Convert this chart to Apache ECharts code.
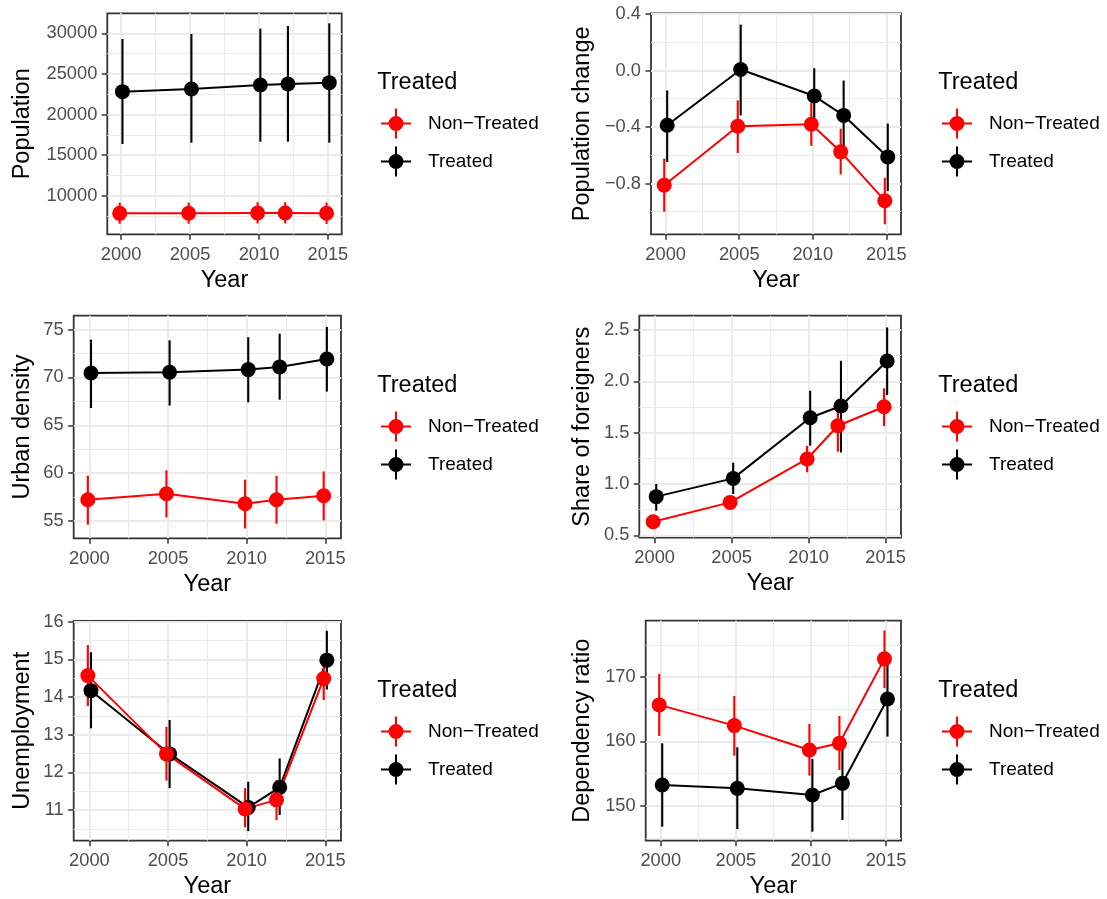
<!DOCTYPE html>
<html>
<head>
<meta charset="utf-8">
<script src="https://cdn.jsdelivr.net/npm/echarts@6/dist/echarts.min.js"></script>
<style>
html,body{margin:0;padding:0;background:#fff;}
#chart{width:1107px;height:899px;}
</style>
</head>
<body>
<div id="chart"></div>
<script>
// ---------- DATA ----------
const years = [2000, 2005, 2010, 2012, 2015];
const groupNames = ['Non-Treated', 'Treated'];

// Population
const popNonTreated      = [7830, 7840, 7880, 7870, 7850];
const popNonTreatedLow   = [6550, 6560, 6590, 6580, 6520];
const popNonTreatedHigh  = [9140, 9150, 9200, 9190, 9160];
const popTreated         = [22810, 23140, 23630, 23760, 23920];
const popTreatedLow      = [16370, 16530, 16650, 16650, 16530];
const popTreatedHigh     = [29300, 29910, 30570, 30900, 31230];

// Population change
const chgNonTreated      = [-0.812, -0.395, -0.381, -0.576, -0.922];
const chgNonTreatedLow   = [-1.000, -0.584, -0.534, -0.736, -1.089];
const chgNonTreatedHigh  = [-0.624, -0.212, -0.228, -0.412, -0.760];
const chgTreated         = [-0.388, 0.007, -0.181, -0.318, -0.612];
const chgTreatedLow      = [-0.647, -0.318, -0.378, -0.565, -0.854];
const chgTreatedHigh     = [-0.141, 0.325, 0.016, -0.071, -0.376];

// Urban density
const densNonTreated     = [57.23, 57.86, 56.81, 57.23, 57.65];
const densNonTreatedLow  = [54.62, 55.38, 54.23, 54.72, 55.07];
const densNonTreatedHigh = [59.74, 60.30, 59.32, 59.74, 60.19];
const densTreated        = [70.47, 70.54, 70.82, 71.10, 71.93];
const densTreatedLow     = [66.81, 67.06, 67.40, 67.68, 68.52];
const densTreatedHigh    = [73.95, 73.88, 74.20, 74.58, 75.28];

// Share of foreigners
const forNonTreated      = [0.633, 0.821, 1.244, 1.568, 1.753];
const forNonTreatedLow   = [0.580, 0.770, 1.114, 1.315, 1.565];
const forNonTreatedHigh  = [0.690, 0.875, 1.373, 1.786, 1.932];
const forTreated         = [0.877, 1.055, 1.646, 1.760, 2.198];
const forTreatedLow      = [0.740, 0.903, 1.373, 1.308, 1.867];
const forTreatedHigh     = [1.000, 1.208, 1.909, 2.200, 2.526];

// Unemployment
const unNonTreated       = [14.57, 12.49, 11.03, 11.27, 14.49];
const unNonTreatedLow    = [13.76, 11.78, 10.54, 10.73, 13.92];
const unNonTreatedHigh   = [15.38, 13.21, 11.58, 11.80, 15.06];
const unTreated          = [14.17, 12.49, 11.07, 11.60, 14.98];
const unTreatedLow       = [13.17, 11.58, 10.44, 10.87, 14.20];
const unTreatedHigh      = [15.19, 13.39, 11.75, 12.37, 15.76];

// Dependency ratio
const depNonTreated      = [165.69, 162.47, 158.68, 159.71, 172.86];
const depNonTreatedLow   = [160.86, 157.79, 154.68, 155.56, 168.29];
const depNonTreatedHigh  = [170.52, 167.09, 162.73, 163.97, 177.27];
const depTreated         = [153.22, 152.70, 151.66, 153.48, 166.62];
const depTreatedLow      = [146.73, 146.36, 145.95, 147.77, 160.75];
const depTreatedHigh     = [159.71, 159.09, 157.27, 158.94, 172.49];

// Tick labels
const xTicks = [2000, 2005, 2010, 2015];
const xMinor = [2002.5, 2007.5, 2012.5];
const popTicks  = [10000, 15000, 20000, 25000, 30000];
const popMinor  = [7500, 12500, 17500, 22500, 27500];
const chgTicks  = [-0.8, -0.4, 0.0, 0.4];
const chgMinor  = [-1.0, -0.6, -0.2, 0.2];
const densTicks = [55, 60, 65, 70, 75];
const densMinor = [57.5, 62.5, 67.5, 72.5];
const forTicks  = [0.5, 1.0, 1.5, 2.0, 2.5];
const forMinor  = [0.75, 1.25, 1.75, 2.25];
const unTicks   = [11, 12, 13, 14, 15, 16];
const unMinor   = [10.5, 11.5, 12.5, 13.5, 14.5, 15.5];
const depTicks  = [150, 160, 170];
const depMinor  = [145, 155, 165, 175];

// ---------- LAYOUT / STYLE ----------
const FONT = 'Liberation Sans, Arial, Helvetica, sans-serif';
const RED = '#ff0000', BLACK = '#000000';
const GRIDC = '#ebebeb';
const DODGE = 0.1;
const TICK_FS = 18.3, TITLE_FS = 23.5, LEG_FS = 19;

const panels = [
  {title:'Population', nt:[popNonTreated,popNonTreatedLow,popNonTreatedHigh], t:[popTreated,popTreatedLow,popTreatedHigh],
   ticks:popTicks, minor:popMinor, ymin:5250, ymax:32460, dec:0,
   grid:{left:107.3, top:13.3, width:234.4, height:221}, col:0, row:0},
  {title:'Population change', nt:[chgNonTreated,chgNonTreatedLow,chgNonTreatedHigh], t:[chgTreated,chgTreatedLow,chgTreatedHigh],
   ticks:chgTicks, minor:chgMinor, ymin:-1.16, ymax:0.405, dec:1,
   grid:{left:651, top:13.3, width:250, height:221}, col:1, row:0},
  {title:'Urban density', nt:[densNonTreated,densNonTreatedLow,densNonTreatedHigh], t:[densTreated,densTreatedLow,densTreatedHigh],
   ticks:densTicks, minor:densMinor, ymin:53.2, ymax:76.45, dec:0,
   grid:{left:73.7, top:315.7, width:267.3, height:222.6}, col:0, row:1},
  {title:'Share of foreigners', nt:[forNonTreated,forNonTreatedLow,forNonTreatedHigh], t:[forTreated,forTreatedLow,forTreatedHigh],
   ticks:forTicks, minor:forMinor, ymin:0.477, ymax:2.64, dec:1,
   grid:{left:639.3, top:315.7, width:261.7, height:222}, col:1, row:1},
  {title:'Unemployment', nt:[unNonTreated,unNonTreatedLow,unNonTreatedHigh], t:[unTreated,unTreatedLow,unTreatedHigh],
   ticks:unTicks, minor:unMinor, ymin:10.185, ymax:16.02, dec:0,
   grid:{left:73.7, top:621, width:267.3, height:219.7}, col:0, row:2},
  {title:'Dependency ratio', nt:[depNonTreated,depNonTreatedLow,depNonTreatedHigh], t:[depTreated,depTreatedLow,depTreatedHigh],
   ticks:depTicks, minor:depMinor, ymin:144.55, ymax:178.8, dec:0,
   grid:{left:645.7, top:620.7, width:255.3, height:220}, col:1, row:2}
];

const yTitleCenter = [23, 583];
const legendLeft = [381, 942];
const legendTop = [108.5, 411.5, 716.5];
const legTitleLeft = [377.3, 938.3];
const legTitleTop = [70.5, 374, 679];

const ICON = 'path://M0 14L30 14L30 16L0 16Z M14 0L16 0L16 30L14 30Z M22.5 15A7.5 7.5 0 1 1 7.5 15A7.5 7.5 0 1 1 22.5 15Z';

const fmtMinus = s => s.replace('-', '\u2212');

const grids = [], xAxes = [], yAxes = [], series = [], legends = [], titles = [];

panels.forEach((p, i) => {
  grids.push(Object.assign({show:true, borderColor:'#333333', borderWidth:1.8, backgroundColor:'#ffffff', containLabel:false, outerBoundsMode:'none'}, p.grid));
  const xMain = xAxes.length, yMain = yAxes.length;
  xAxes.push({
    type:'value', gridIndex:i, min:1999, max:2016, position:'bottom',
    name:'Year', nameLocation:'middle', nameGap:34, nameMoveOverlap:false,
    nameTextStyle:{fontSize:TITLE_FS, color:'#000', fontFamily:FONT},
    axisLine:{show:false, onZero:false},
    axisTick:{show:true, length:5.5, lineStyle:{color:'#333333', width:1.5}, customValues:xTicks},
    axisLabel:{show:true, customValues:xTicks, margin:11.5, fontSize:TICK_FS, color:'#4d4d4d', fontFamily:FONT, formatter:v=>String(v)},
    splitLine:{show:true, lineStyle:{color:GRIDC, width:2}}
  });
  xAxes.push({
    type:'value', gridIndex:i, min:1999, max:2016, position:'top',
    axisLine:{show:false, onZero:false}, axisLabel:{show:false},
    axisTick:{show:false, customValues:xMinor},
    splitLine:{show:true, lineStyle:{color:GRIDC, width:1}}
  });
  const nameGap = p.grid.left - yTitleCenter[p.col] - TITLE_FS / 2;
  yAxes.push({
    type:'value', gridIndex:i, min:p.ymin, max:p.ymax, position:'left',
    name:p.title, nameLocation:'middle', nameGap:nameGap, nameMoveOverlap:false,
    nameTextStyle:{fontSize:TITLE_FS, color:'#000', fontFamily:FONT},
    axisLine:{show:false, onZero:false},
    axisTick:{show:true, length:5.5, lineStyle:{color:'#333333', width:1.5}, customValues:p.ticks},
    axisLabel:{show:true, customValues:p.ticks, margin:10, fontSize:TICK_FS, color:'#4d4d4d', fontFamily:FONT,
      formatter: v => fmtMinus(p.dec ? Number(v).toFixed(p.dec) : String(Math.round(v)))},
    splitLine:{show:true, lineStyle:{color:GRIDC, width:2}}
  });
  yAxes.push({
    type:'value', gridIndex:i, min:p.ymin, max:p.ymax, position:'right',
    axisLine:{show:false, onZero:false}, axisLabel:{show:false},
    axisTick:{show:false, customValues:p.minor},
    splitLine:{show:true, lineStyle:{color:GRIDC, width:1}}
  });

  const groups = [
    {name:'Treated', color:BLACK, d:p.t, off:DODGE},
    {name:'Non-Treated', color:RED, d:p.nt, off:-DODGE}
  ];
  // lines first
  groups.forEach(g => {
    series.push({
      type:'line', name:g.name, xAxisIndex:xMain, yAxisIndex:yMain,
      data: years.map((y, k) => [y + g.off, g.d[0][k]]),
      showSymbol:false, symbol:'none', silent:true, animation:false,
      lineStyle:{color:g.color, width:2, opacity:1}, itemStyle:{color:g.color}, z:3
    });
  });
  // point ranges
  groups.forEach(g => {
    series.push({
      type:'custom', name:g.name, xAxisIndex:xMain, yAxisIndex:yMain,
      data: years.map((y, k) => [y + g.off, g.d[1][k], g.d[2][k]]),
      encode:{x:0, y:[1,2]}, silent:true, animation:false, z:4,
      itemStyle:{color:g.color},
      renderItem:(params, api) => {
        const a = api.coord([api.value(0), api.value(1)]);
        const b = api.coord([api.value(0), api.value(2)]);
        return {type:'line', shape:{x1:a[0], y1:a[1], x2:b[0], y2:b[1]},
                style:{stroke:g.color, lineWidth:2.1}};
      }
    });
    series.push({
      type:'scatter', name:g.name, xAxisIndex:xMain, yAxisIndex:yMain,
      data: years.map((y, k) => [y + g.off, g.d[0][k]]),
      symbol:'circle', symbolSize:15, silent:true, animation:false, z:4,
      itemStyle:{color:g.color, borderWidth:0, opacity:1}
    });
  });

  legends.push({
    orient:'vertical', left:legendLeft[p.col], top:legendTop[p.row], padding:0,
    itemWidth:30, itemHeight:30, itemGap:8, selectedMode:false,
    textStyle:{fontSize:LEG_FS, color:'#000', fontFamily:FONT,
      rich:{t:{fontSize:LEG_FS, color:'#000', fontFamily:FONT, padding:[0,0,0,12]}}},
    itemStyle:{borderWidth:0},
    formatter: n => '{t|' + fmtMinus(n) + '}',
    data:[
      {name:'Non-Treated', icon:ICON, itemStyle:{color:RED, borderWidth:0}},
      {name:'Treated', icon:ICON, itemStyle:{color:BLACK, borderWidth:0}}
    ]
  });
  titles.push({
    text:'Treated', left:legTitleLeft[p.col], top:legTitleTop[p.row], padding:0,
    textStyle:{fontSize:TITLE_FS, fontWeight:'normal', color:'#000', fontFamily:FONT}
  });
});

const chart = echarts.init(document.getElementById('chart'), null, {renderer:'canvas'});
chart.setOption({
  backgroundColor:'#ffffff',
  animation:false,
  textStyle:{fontFamily:FONT},
  title:titles,
  legend:legends,
  grid:grids,
  xAxis:xAxes,
  yAxis:yAxes,
  series:series
});
</script>
</body>
</html>
